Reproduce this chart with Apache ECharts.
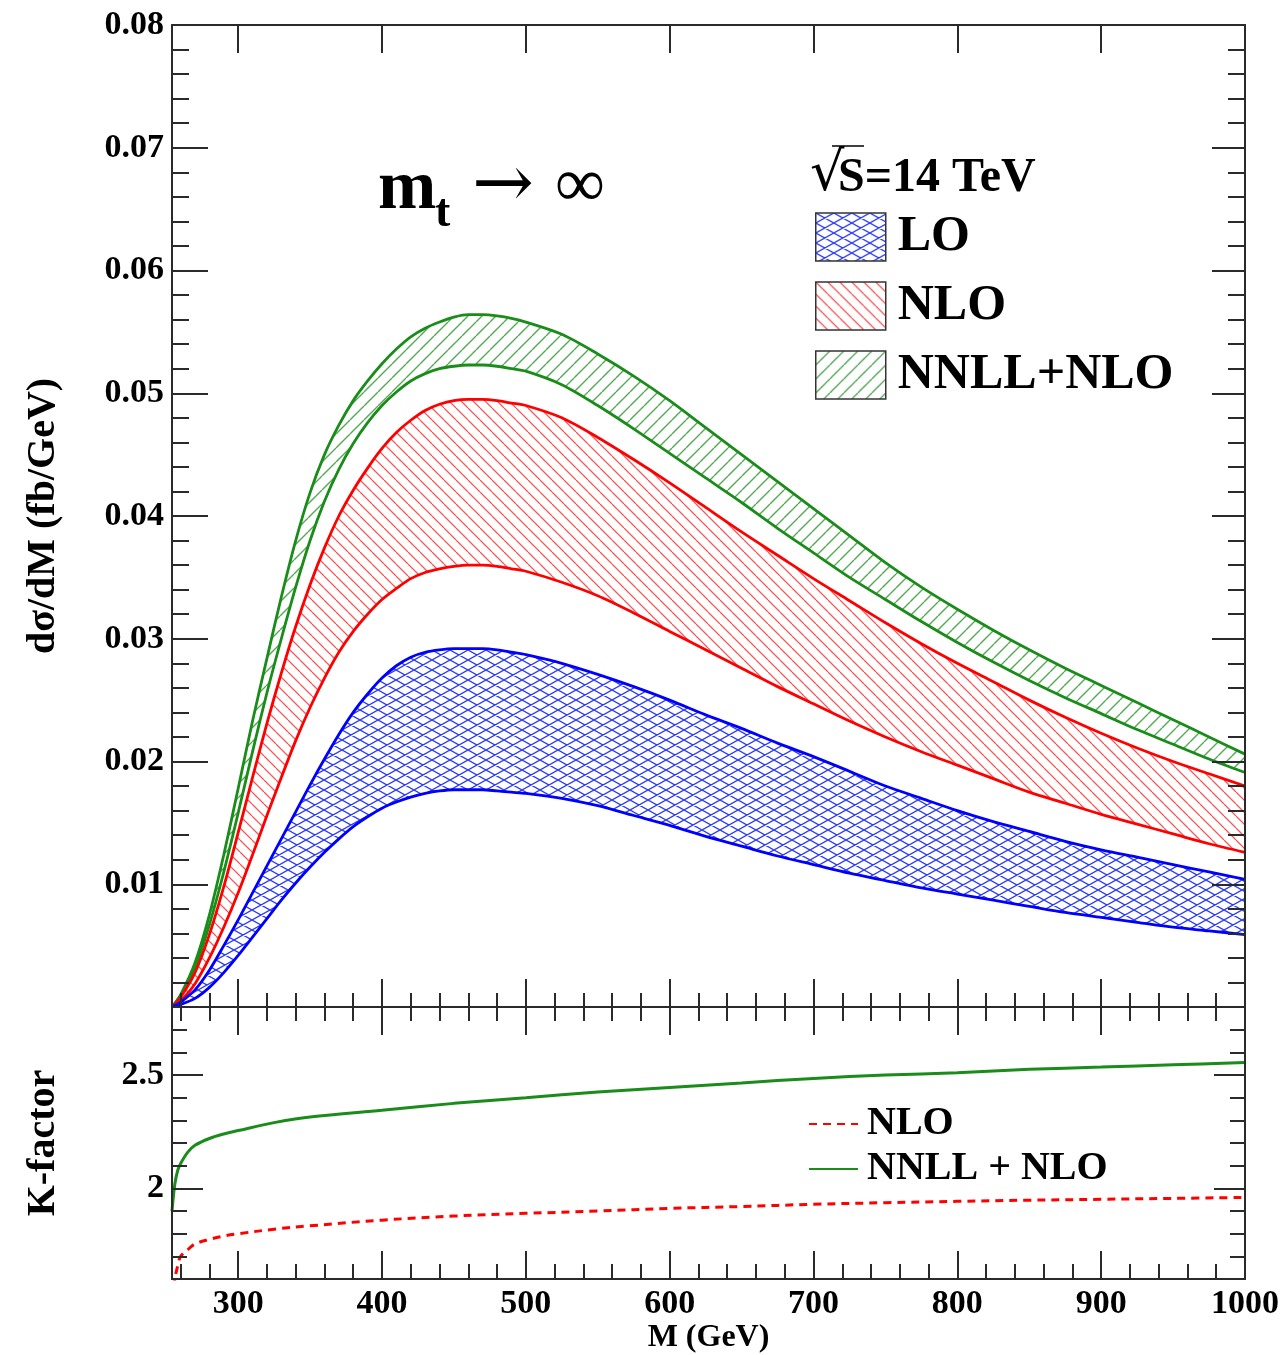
<!DOCTYPE html>
<html>
<head>
<meta charset="utf-8">
<script src="https://cdn.jsdelivr.net/npm/echarts@6/dist/echarts.min.js"></script>
<style>
  html, body { margin: 0; padding: 0; background: #fff; }
  #main { width: 1285px; height: 1355px; }
</style>
</head>
<body>
<div id="main"></div>
<script>
// invariant mass grid (GeV) for the upper panel
const massTop = [254, 260, 270, 280, 290, 300, 310, 320, 330, 340, 350, 360, 370, 380, 390, 400, 410, 420, 430, 440, 450, 460, 470, 480, 490, 500,
  525, 550, 575, 600, 625, 650, 675, 700, 725, 750, 775, 800, 825, 850, 875, 900, 925, 950, 975, 1000];
// d sigma / dM bands (fb/GeV), upper and lower edges
const loHigh = [0, 0.0004, 0.0014, 0.0030, 0.0050, 0.0071, 0.0093, 0.0115, 0.0137, 0.0159, 0.0181, 0.0202, 0.0222, 0.0240, 0.0255, 0.0268, 0.0278, 0.0285, 0.0289, 0.0291, 0.0292, 0.0292, 0.0292, 0.0291, 0.0289, 0.0287,
  0.0280, 0.0271, 0.0261, 0.0250, 0.0238, 0.0227, 0.0215, 0.0204, 0.0192, 0.0180, 0.0170, 0.0160, 0.0151, 0.0143, 0.0135, 0.0128, 0.0122, 0.0116, 0.0110, 0.0104];
const loLow = [0, 0.0002, 0.0007, 0.0016, 0.0028, 0.0042, 0.0057, 0.0072, 0.0087, 0.0101, 0.0114, 0.0126, 0.0137, 0.0147, 0.0155, 0.0162, 0.0167, 0.0171, 0.0174, 0.0176, 0.0177, 0.0177, 0.0177, 0.0176, 0.0175, 0.0174,
  0.0170, 0.0164, 0.0156, 0.0148, 0.0139, 0.0131, 0.0123, 0.0116, 0.0109, 0.0103, 0.0097, 0.0092, 0.0087, 0.0082, 0.0077, 0.0073, 0.0069, 0.0065, 0.0062, 0.0059];
const nloHigh = [0, 0.0008, 0.0028, 0.0059, 0.0098, 0.0142, 0.0187, 0.0231, 0.0272, 0.0310, 0.0344, 0.0374, 0.0400, 0.0421, 0.0439, 0.0455, 0.0468, 0.0478, 0.0486, 0.0491, 0.0494, 0.0495, 0.0495, 0.0494, 0.0492, 0.0490,
  0.0480, 0.0464, 0.0446, 0.0427, 0.0407, 0.0387, 0.0368, 0.0349, 0.0331, 0.0313, 0.0296, 0.0280, 0.0265, 0.0250, 0.0236, 0.0223, 0.0211, 0.0200, 0.0190, 0.0180];
const nloLow = [0, 0.0005, 0.0019, 0.0040, 0.0065, 0.0093, 0.0124, 0.0156, 0.0187, 0.0217, 0.0244, 0.0268, 0.0289, 0.0306, 0.0320, 0.0332, 0.0341, 0.0349, 0.0354, 0.0357, 0.0359, 0.0360, 0.0360, 0.0359, 0.0357, 0.0355,
  0.0346, 0.0335, 0.0321, 0.0306, 0.0291, 0.0276, 0.0261, 0.0247, 0.0233, 0.0220, 0.0208, 0.0197, 0.0186, 0.0175, 0.0166, 0.0157, 0.0149, 0.0141, 0.0133, 0.0126];
const nnllHigh = [0, 0.0010, 0.0036, 0.0075, 0.0124, 0.0178, 0.0233, 0.0284, 0.0334, 0.0380, 0.0419, 0.0450, 0.0474, 0.0494, 0.0510, 0.0524, 0.0536, 0.0546, 0.0553, 0.0558, 0.0562, 0.0564, 0.0564, 0.0563, 0.0561, 0.0558,
  0.0548, 0.0532, 0.0514, 0.0494, 0.0472, 0.0450, 0.0428, 0.0406, 0.0384, 0.0362, 0.0342, 0.0324, 0.0307, 0.0291, 0.0276, 0.0262, 0.0248, 0.0234, 0.0220, 0.0206];
const nnllLow = [0, 0.0009, 0.0032, 0.0067, 0.0110, 0.0158, 0.0208, 0.0256, 0.0300, 0.0342, 0.0380, 0.0412, 0.0438, 0.0459, 0.0476, 0.0490, 0.0501, 0.0510, 0.0516, 0.0520, 0.0522, 0.0523, 0.0523, 0.0522, 0.0520, 0.0518,
  0.0507, 0.0490, 0.0471, 0.0451, 0.0431, 0.0411, 0.0390, 0.0370, 0.0350, 0.0332, 0.0314, 0.0297, 0.0281, 0.0266, 0.0252, 0.0239, 0.0226, 0.0214, 0.0202, 0.0191];

// K-factor panel
const massK = [254, 256, 258, 260, 265, 270, 280, 290, 300, 325, 350, 400, 450, 500, 550, 600, 650, 700, 750, 800, 850, 900, 950, 1000];
const kNlo  = [1.50, 1.60, 1.66, 1.70, 1.73, 1.755, 1.775, 1.79, 1.80, 1.82, 1.835, 1.86, 1.878, 1.89, 1.90, 1.912, 1.92, 1.93, 1.937, 1.943, 1.948, 1.952, 1.956, 1.96];
const kNnll = [1.90, 2.02, 2.08, 2.11, 2.16, 2.19, 2.22, 2.24, 2.255, 2.29, 2.315, 2.345, 2.375, 2.40, 2.425, 2.445, 2.465, 2.485, 2.50, 2.51, 2.525, 2.535, 2.545, 2.555];

// ticks
const xMajor = [300, 400, 500, 600, 700, 800, 900, 1000];
const xMinor = [260, 280, 320, 340, 360, 380, 420, 440, 460, 480, 520, 540, 560, 580, 620, 640, 660, 680, 720, 740, 760, 780, 820, 840, 860, 880, 920, 940, 960, 980];
const kMajor = [2, 2.5];
const kMinor = [1.7, 1.8, 1.9, 2.1, 2.2, 2.3, 2.4, 2.6, 2.7];

const FONT = 'Liberation Serif';
const AX = '#2a2a2a';

function hatch(w, h, color, lw, dirs) {
  const c = document.createElement('canvas');
  c.width = w; c.height = h;
  const g = c.getContext('2d');
  g.strokeStyle = color;
  g.lineWidth = lw;
  g.beginPath();
  dirs.forEach(function (d) {
    for (let k = -1; k <= 1; k++) {
      if (d === '\\') { g.moveTo(k * w, 0); g.lineTo(k * w + w, h); }
      else { g.moveTo(k * w, h); g.lineTo(k * w + w, 0); }
    }
  });
  g.stroke();
  return { image: c, repeat: 'repeat' };
}
const patLO = hatch(18, 10, '#2b3bff', 1.3, ['\\', '/']);
const patNLO = hatch(12, 12, '#ff5555', 1.3, ['\\']);
const patNNLL = hatch(14, 14, '#55a855', 1.4, ['/']);

const pairs = (xs, ys) => xs.map((x, i) => [x, ys[i]]);

// a band = upper edge filled with the hatch down to 0, then lower edge filled white
function band(key, color, pat, hi, lo, z) {
  return [
    {
      name: key + ' high', type: 'line', xAxisIndex: 0, yAxisIndex: 0,
      data: pairs(massTop, hi), showSymbol: false, symbol: 'none', smooth: 0.3,
      lineStyle: { color: color, width: 2.8 },
      areaStyle: { color: pat, opacity: 1 }, z: z
    },
    {
      name: key + ' low', type: 'line', xAxisIndex: 0, yAxisIndex: 0,
      data: pairs(massTop, lo), showSymbol: false, symbol: 'none', smooth: 0.3,
      lineStyle: { color: color, width: 2.8 },
      areaStyle: { color: '#ffffff', opacity: 1 }, z: z + 1
    }
  ];
}
function legendBox(name, pat) {
  return {
    name: name, type: 'bar', xAxisIndex: 0, yAxisIndex: 0, data: [],
    itemStyle: { color: pat, borderColor: '#333', borderWidth: 1.5 }
  };
}

function xAxes(grid, top, values, len, opts) {
  return Object.assign({
    type: 'value', gridIndex: grid, min: 254, max: 1000, position: top ? 'top' : 'bottom', z: 10,
    axisLine: { show: true, onZero: false, lineStyle: { color: AX, width: 2 } },
    axisTick: { show: true, inside: true, length: len, customValues: values, lineStyle: { color: AX, width: 2 } },
    axisLabel: { show: false },
    splitLine: { show: false }
  }, opts || {});
}
function kAxis(right, values, len, opts) {
  return Object.assign({
    type: 'value', gridIndex: 1, min: 1.6, max: 2.8, position: right ? 'right' : 'left', z: 10,
    axisLine: { show: true, onZero: false, lineStyle: { color: AX, width: 2 } },
    axisTick: { show: true, inside: true, length: len, customValues: values, lineStyle: { color: AX, width: 2 } },
    axisLabel: { show: false },
    splitLine: { show: false }
  }, opts || {});
}
function sigmaAxis(right, opts) {
  return Object.assign({
    type: 'value', gridIndex: 0, min: 0, max: 0.08, interval: 0.01, position: right ? 'right' : 'left', z: 10,
    axisLine: { show: true, onZero: false, lineStyle: { color: AX, width: 2 } },
    axisTick: { show: true, inside: true, length: right ? 33 : 36, lineStyle: { color: AX, width: 2 } },
    minorTick: { show: true, splitNumber: 5, length: 17, lineStyle: { color: AX, width: 2 } },
    axisLabel: { show: false },
    splitLine: { show: false }
  }, opts || {});
}

const labelStyle = { fontFamily: FONT, fontWeight: 'bold', fontSize: 34, color: '#000' };

const chart = echarts.init(document.getElementById('main'));
chart.setOption({
  animation: false,
  backgroundColor: '#fff',
  grid: [
    { left: 172, top: 25, width: 1073, height: 982 },
    { left: 172, top: 1007, width: 1073, height: 273 }
  ],
  xAxis: [
    xAxes(0, false, xMajor, 28),
    xAxes(0, false, xMinor, 14, { axisLine: { show: false } }),
    xAxes(0, true, xMajor, 28),
    xAxes(0, true, xMinor, 14, { axisLine: { show: false } }),
    xAxes(1, false, xMajor, 28, {
      axisLabel: Object.assign({ show: true, margin: 8, customValues: xMajor, formatter: v => String(v) }, labelStyle),
      name: 'M (GeV)', nameLocation: 'middle', nameGap: 38,
      nameTextStyle: { fontFamily: FONT, fontWeight: 'bold', fontSize: 32, color: '#000' }
    }),
    xAxes(1, false, xMinor, 15, { axisLine: { show: false } }),
    xAxes(1, true, xMajor, 28),
    xAxes(1, true, xMinor, 14, { axisLine: { show: false } })
  ],
  yAxis: [
    sigmaAxis(false, {
      axisLabel: Object.assign({ show: true, margin: 8, formatter: v => v === 0 ? '' : v.toFixed(2) }, labelStyle),
      name: 'd\u03c3/dM (fb/GeV)', nameLocation: 'middle', nameGap: 108,
      nameTextStyle: { fontFamily: FONT, fontWeight: 'bold', fontSize: 40, color: '#000' }
    }),
    sigmaAxis(true),
    kAxis(false, kMajor, 31, {
      axisLabel: Object.assign({ show: true, margin: 8, customValues: kMajor }, labelStyle),
      name: 'K-factor', nameLocation: 'middle', nameGap: 108,
      nameTextStyle: { fontFamily: FONT, fontWeight: 'bold', fontSize: 40, color: '#000' }
    }),
    kAxis(false, kMinor, 15, { axisLine: { show: false } }),
    kAxis(true, kMajor, 31),
    kAxis(true, kMinor, 15, { axisLine: { show: false } })
  ],
  legend: [
    {
      data: [
        { name: 'LO', icon: 'rect', itemStyle: { color: patLO, borderColor: '#333', borderWidth: 1.5 } },
        { name: 'NLO', icon: 'rect', itemStyle: { color: patNLO, borderColor: '#333', borderWidth: 1.5 } },
        { name: 'NNLL+NLO', icon: 'rect', itemStyle: { color: patNNLL, borderColor: '#333', borderWidth: 1.5 } }
      ],
      orient: 'vertical', left: 815, top: 212, padding: 0, itemWidth: 70, itemHeight: 48, itemGap: 19,
      selectedMode: false,
      textStyle: { fontFamily: FONT, fontWeight: 'bold', fontSize: 50, lineHeight: 44, color: '#000', padding: [4, 0, 0, 7] }
    },
    {
      data: [
        { name: 'NLO ', itemStyle: { color: 'rgba(0,0,0,0)', borderWidth: 0 } },
        { name: 'NNLL + NLO', itemStyle: { color: 'rgba(0,0,0,0)', borderWidth: 0 } }
      ],
      orient: 'vertical', left: 808, top: 1104, padding: 0, itemWidth: 49, itemHeight: 4, itemGap: 5,
      selectedMode: false,
      textStyle: { fontFamily: FONT, fontWeight: 'bold', fontSize: 40, lineHeight: 40, color: '#000', padding: [0, 0, 0, 4] }
    }
  ],
  graphic: [
    { type: 'text', x: 810, y: 176, z: 20, style: { text: '\u221a', font: '54px "DejaVu Serif"', fill: '#000', verticalAlign: 'middle' } },
    { type: 'line', z: 20, shape: { x1: 832, y1: 146, x2: 864, y2: 146 }, style: { stroke: '#000', lineWidth: 1.5 } },
    { type: 'text', x: 838, y: 179, z: 20, style: { text: 'S=14 TeV', font: 'bold 48px "' + FONT + '"', fill: '#000', verticalAlign: 'middle' } },
    { type: 'text', x: 378, y: 190, z: 20, style: { text: 'm', font: 'bold 70px "' + FONT + '"', fill: '#000', verticalAlign: 'middle' } },
    { type: 'text', x: 435, y: 214, z: 20, style: { text: 't', font: 'bold 46px "' + FONT + '"', fill: '#000', verticalAlign: 'middle' } },
    { type: 'text', x: 472, y: 188, z: 20, style: { text: '\u2192', font: '74px "DejaVu Serif"', fill: '#000', verticalAlign: 'middle' } },
    { type: 'text', x: 555, y: 188, z: 20, style: { text: '\u221e', font: '70px "' + FONT + '"', fill: '#000', verticalAlign: 'middle' } }
  ],
  series: [
    legendBox('LO', patLO),
    legendBox('NLO', patNLO),
    legendBox('NNLL+NLO', patNNLL)
  ].concat(
    band('NNLL', '#1a8c1a', patNNLL, nnllHigh, nnllLow, 2),
    band('NLO', '#ff0000', patNLO, nloHigh, nloLow, 4),
    band('LO', '#0000ff', patLO, loHigh, loLow, 6),
    [
      {
        name: 'NLO ', type: 'line', xAxisIndex: 4, yAxisIndex: 2, data: pairs(massK, kNlo),
        showSymbol: false, symbol: 'none', smooth: 0.35,
        lineStyle: { color: '#ff0000', width: 3, type: [8, 6] }, itemStyle: { color: '#ff0000' }
      },
      {
        name: 'NNLL + NLO', type: 'line', xAxisIndex: 4, yAxisIndex: 2, data: pairs(massK, kNnll),
        showSymbol: false, symbol: 'none', smooth: 0.35,
        lineStyle: { color: '#1a8c1a', width: 3 }, itemStyle: { color: '#1a8c1a' }
      }
    ]
  )
});
</script>
</body>
</html>
